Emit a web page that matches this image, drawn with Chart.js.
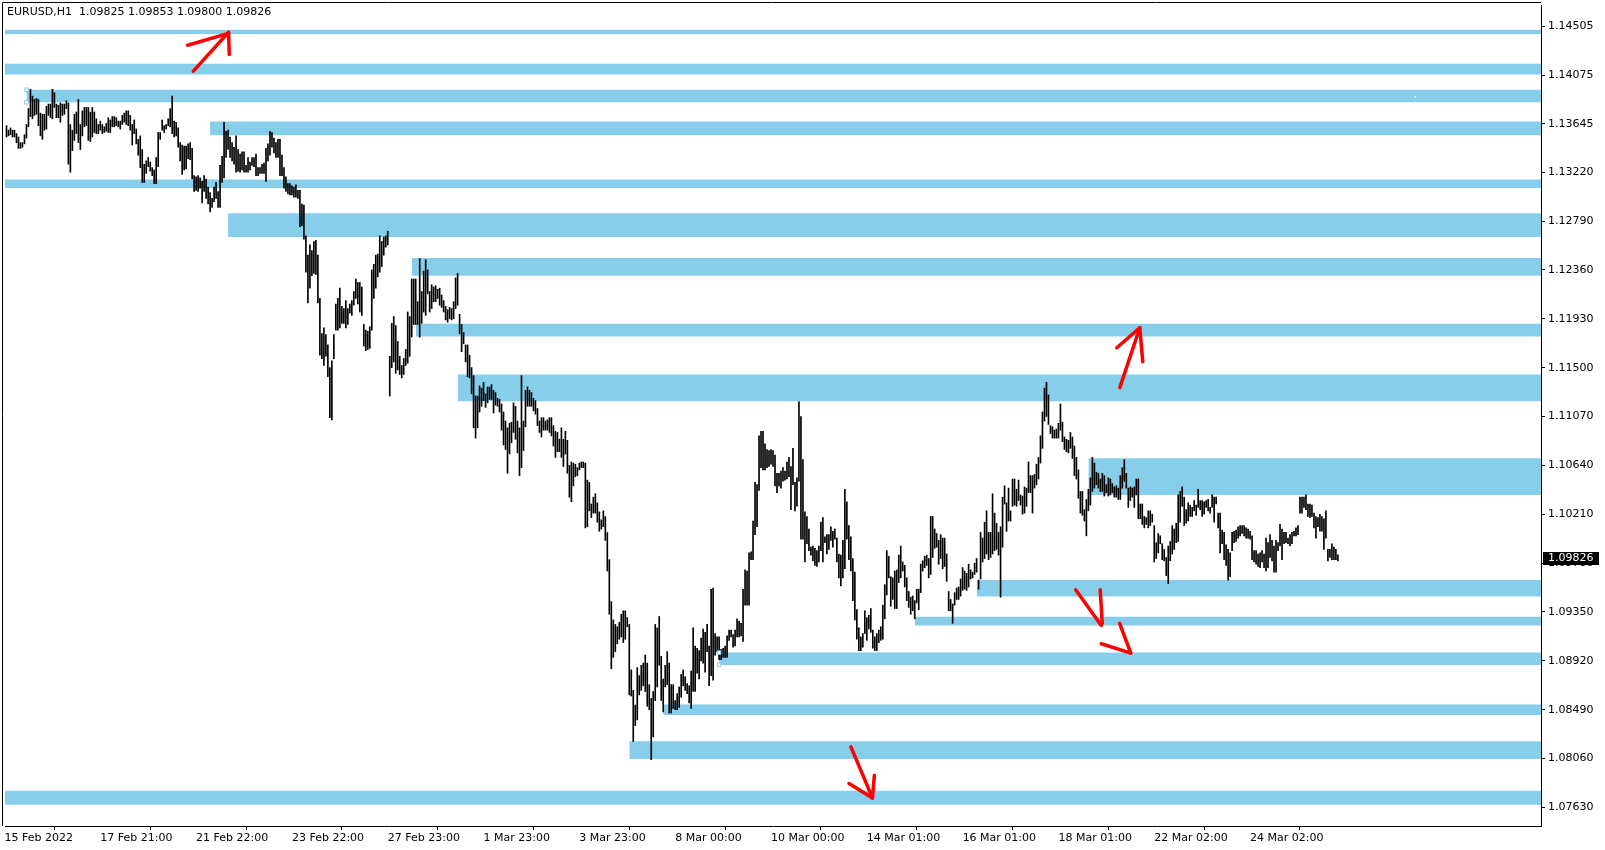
<!DOCTYPE html>
<html>
<head>
<meta charset="utf-8">
<script src="https://cdn.jsdelivr.net/npm/chart.js@4.4.1/dist/chart.umd.min.js"></script>
<style>
  html, body { margin: 0; padding: 0; background: #fff; }
  canvas { display: block; }
</style>
</head>
<body>
<canvas id="chart" width="1605" height="850"></canvas>
<script>
// EURUSD H1, one bar per hour
const quote = { name: 'EURUSD,H1', open: 1.09825, high: 1.09853, low: 1.09800, close: 1.09826 };

const priceTicks = [1.14505, 1.14075, 1.13645, 1.13220, 1.12790, 1.12360, 1.11930, 1.11500, 1.11070,
                    1.10640, 1.10210, 1.09780, 1.09350, 1.08920, 1.08490, 1.08060, 1.07630];

const timeLabels = ['15 Feb 2022', '17 Feb 21:00', '21 Feb 22:00', '23 Feb 22:00', '27 Feb 23:00',
                    '1 Mar 23:00', '3 Mar 23:00', '8 Mar 00:00', '10 Mar 00:00', '14 Mar 01:00',
                    '16 Mar 01:00', '18 Mar 01:00', '22 Mar 02:00', '24 Mar 02:00'];
const timeLabelBars = [0, 48, 96, 144, 192, 240, 288, 336, 384, 432, 480, 528, 576, 624];

const highs = [
1.1363,1.1359,1.1361,1.1359,1.1359,1.1356,1.1353,1.1348,1.1348,1.1355,
1.1364,1.1378,1.1395,1.1389,1.1386,1.1387,1.1386,1.1374,1.1373,1.1373,
1.1380,1.1382,1.1382,1.1395,1.1392,1.1382,1.1381,1.1383,1.1382,1.1382,
1.1385,1.1383,1.1364,1.1359,1.1373,1.1375,1.1386,1.1364,1.1376,1.1379,
1.1379,1.1379,1.1375,1.1379,1.1375,1.1369,1.1364,1.1367,1.1364,1.1362,
1.1365,1.1370,1.1368,1.1371,1.1371,1.1370,1.1367,1.1367,1.1372,1.1374,
1.1376,1.1376,1.1372,1.1364,1.1368,1.1360,1.1351,1.1354,1.1342,1.1329,
1.1332,1.1335,1.1331,1.1326,1.1324,1.1335,1.1357,1.1357,1.1368,1.1363,
1.1364,1.1369,1.1378,1.1389,1.1367,1.1366,1.1361,1.1348,1.1346,1.1345,
1.1345,1.1347,1.1348,1.1343,1.1319,1.1318,1.1319,1.1317,1.1314,1.1319,
1.1316,1.1309,1.1304,1.1299,1.1309,1.1313,1.1305,1.1328,1.1336,1.1366,
1.1358,1.1359,1.1353,1.1348,1.1344,1.1354,1.1342,1.1338,1.1340,1.1340,
1.1328,1.1335,1.1331,1.1335,1.1335,1.1338,1.1326,1.1326,1.1329,1.1330,
1.1343,1.1347,1.1358,1.1357,1.1352,1.1348,1.1351,1.1351,1.1337,1.1326,
1.1318,1.1312,1.1312,1.1310,1.1309,1.1311,1.1306,1.1306,1.1294,1.1293,
1.1266,1.1249,1.1258,1.1253,1.1261,1.1262,1.1249,1.1211,1.1180,1.1185,
1.1179,1.1170,1.1150,1.1156,1.1179,1.1206,1.1211,1.1220,1.1204,1.1202,
1.1209,1.1202,1.1206,1.1209,1.1217,1.1228,1.1225,1.1225,1.1221,1.1188,
1.1183,1.1182,1.1186,1.1236,1.1241,1.1249,1.1250,1.1266,1.1261,1.1265,
1.1266,1.1270,1.1160,1.1189,1.1195,1.1187,1.1173,1.1160,1.1152,1.1158,
1.1166,1.1199,1.1195,1.1228,1.1228,1.1228,1.1208,1.1246,1.1217,1.1235,
1.1245,1.1236,1.1217,1.1223,1.1221,1.1222,1.1219,1.1220,1.1214,1.1209,
1.1204,1.1201,1.1203,1.1202,1.1208,1.1229,1.1233,1.1197,1.1188,1.1181,
1.1170,1.1170,1.1161,1.1150,1.1143,1.1125,1.1125,1.1134,1.1132,1.1137,
1.1127,1.1133,1.1133,1.1135,1.1130,1.1128,1.1123,1.1122,1.1118,1.1111,
1.1103,1.1097,1.1101,1.1102,1.1119,1.1116,1.1103,1.1097,1.1143,1.1103,
1.1130,1.1133,1.1130,1.1128,1.1123,1.1121,1.1114,1.1103,1.1106,1.1106,
1.1103,1.1104,1.1106,1.1106,1.1099,1.1094,1.1093,1.1087,1.1097,1.1087,
1.1094,1.1086,1.1064,1.1067,1.1066,1.1065,1.1062,1.1066,1.1067,1.1067,
1.1066,1.1051,1.1049,1.1030,1.1036,1.1039,1.1031,1.1023,1.1016,1.1024,
1.1019,1.1005,1.0981,1.0944,1.0928,1.0924,1.0922,1.0926,1.0933,1.0936,
1.0936,1.0930,1.0924,1.0884,1.0866,1.0853,1.0886,1.0879,1.0888,1.0890,
1.0897,1.0890,1.0871,1.0859,1.0865,1.0924,1.0921,1.0931,1.0896,1.0876,
1.0888,1.0900,1.0890,1.0871,1.0871,1.0857,1.0863,1.0869,1.0880,1.0884,
1.0878,1.0872,1.0870,1.0883,1.0921,1.0905,1.0903,1.0901,1.0912,1.0920,
1.0917,1.0924,1.0905,1.0955,1.0956,1.0916,1.0913,1.0913,1.0902,1.0903,
1.0905,1.0914,1.0919,1.0919,1.0915,1.0919,1.0929,1.0927,1.0925,1.0955,
1.0972,1.0971,1.0987,1.0988,1.1015,1.1049,1.1047,1.1090,1.1094,1.1094,
1.1083,1.1078,1.1077,1.1078,1.1077,1.1073,1.1057,1.1057,1.1059,1.1062,
1.1059,1.1067,1.1071,1.1063,1.1079,1.1049,1.1053,1.1120,1.1107,1.1069,
1.1023,1.1019,1.1008,1.0992,1.0993,1.0991,1.0989,1.0993,1.1014,1.1018,
1.1001,1.1003,1.1003,1.1010,1.1006,1.1008,1.1000,1.0986,1.0985,1.0998,
1.1043,1.1032,1.1011,1.1001,1.0982,1.0970,1.0937,1.0921,1.0913,1.0916,
1.0936,1.0930,1.0932,1.0938,1.0919,1.0913,1.0916,1.0919,1.0922,1.0941,
1.0959,1.0989,1.0984,1.0966,1.0965,1.0971,1.0972,1.0985,1.0993,1.0979,
1.0976,1.0965,1.0953,1.0948,1.0949,1.0945,1.0955,1.0955,1.0977,1.0980,
1.0984,1.0985,1.0982,1.1019,1.1019,1.1008,1.1004,1.0998,1.1003,1.1000,
1.1000,1.0986,1.0953,1.0946,1.0942,1.0952,1.0956,1.0957,1.0964,1.0974,
1.0971,1.0969,1.0977,1.0972,1.0970,1.0978,1.0982,1.0963,1.1005,1.1000,
1.1014,1.1024,1.1005,1.1005,1.1039,1.1022,1.1013,1.1005,1.1010,1.1036,
1.1046,1.1031,1.1044,1.1024,1.1052,1.1052,1.1043,1.1051,1.1038,1.1037,
1.1045,1.1044,1.1067,1.1055,1.1055,1.1056,1.1065,1.1071,1.1090,1.1111,
1.1132,1.1137,1.1126,1.1099,1.1098,1.1095,1.1096,1.1101,1.1118,1.1102,
1.1089,1.1087,1.1086,1.1093,1.1089,1.1081,1.1071,1.1060,1.1041,1.1041,
1.1025,1.1034,1.1043,1.1053,1.1071,1.1066,1.1058,1.1057,1.1052,1.1057,
1.1055,1.1047,1.1053,1.1052,1.1048,1.1045,1.1046,1.1044,1.1055,1.1062,
1.1069,1.1057,1.1044,1.1045,1.1044,1.1045,1.1052,1.1052,1.1030,1.1030,
1.1019,1.1018,1.1024,1.1024,1.1021,1.1011,1.0996,1.1004,1.1002,1.0995,
1.0990,1.0983,1.0993,1.0997,1.1011,1.1008,1.1013,1.1038,1.1041,1.1045,
1.1036,1.1025,1.1031,1.1029,1.1027,1.1033,1.1029,1.1043,1.1033,1.1033,
1.1032,1.1033,1.1034,1.1027,1.1038,1.1036,1.1036,1.1022,1.1022,1.1007,
1.1005,1.0994,1.0990,1.0987,1.1005,1.1006,1.1007,1.1010,1.1011,1.1011,
1.1011,1.1009,1.1008,1.1006,1.1002,1.0989,1.0989,1.0986,1.0987,1.0989,
1.0986,1.1000,1.0996,1.1003,1.0998,1.0993,1.0998,1.0996,1.1012,1.1008,
1.1005,1.1005,1.1000,1.1003,1.1005,1.1006,1.1009,1.1011,1.1036,1.1036,
1.1036,1.1038,1.1030,1.1030,1.1029,1.1022,1.1019,1.1018,1.1021,1.1019,
1.1017,1.1024,1.0990,1.0990,1.0995,1.0992,1.0990,1.09853
];

const lows = [
1.1353,1.1354,1.1355,1.1353,1.1353,1.1348,1.1343,1.1343,1.1344,1.1347,
1.1352,1.1362,1.1371,1.1369,1.1372,1.1373,1.1363,1.1354,1.1351,1.1359,
1.1360,1.1372,1.1370,1.1369,1.1379,1.1370,1.1370,1.1366,1.1372,1.1373,
1.1378,1.1329,1.1322,1.1341,1.1350,1.1356,1.1348,1.1342,1.1354,1.1362,
1.1363,1.1350,1.1349,1.1353,1.1357,1.1356,1.1356,1.1359,1.1356,1.1357,
1.1358,1.1357,1.1357,1.1362,1.1362,1.1363,1.1362,1.1360,1.1364,1.1366,
1.1364,1.1363,1.1359,1.1346,1.1356,1.1347,1.1337,1.1326,1.1313,1.1313,
1.1321,1.1327,1.1323,1.1319,1.1312,1.1312,1.1327,1.1351,1.1359,1.1357,
1.1360,1.1363,1.1362,1.1356,1.1353,1.1354,1.1344,1.1332,1.1320,1.1324,
1.1325,1.1334,1.1333,1.1316,1.1305,1.1306,1.1305,1.1308,1.1295,1.1305,
1.1299,1.1294,1.1287,1.1291,1.1296,1.1299,1.1291,1.1291,1.1313,1.1317,
1.1335,1.1342,1.1335,1.1332,1.1329,1.1322,1.1323,1.1322,1.1324,1.1322,
1.1322,1.1322,1.1324,1.1328,1.1327,1.1319,1.1319,1.1321,1.1321,1.1321,
1.1314,1.1332,1.1337,1.1344,1.1339,1.1335,1.1335,1.1319,1.1319,1.1308,
1.1305,1.1303,1.1302,1.1302,1.1300,1.1300,1.1299,1.1274,1.1275,1.1263,
1.1234,1.1207,1.1220,1.1231,1.1233,1.1232,1.1207,1.1161,1.1158,1.1152,
1.1160,1.1142,1.1106,1.1104,1.1158,1.1183,1.1183,1.1185,1.1189,1.1189,
1.1185,1.1188,1.1198,1.1196,1.1205,1.1211,1.1206,1.1199,1.1196,1.1169,
1.1165,1.1166,1.1167,1.1183,1.1211,1.1220,1.1230,1.1234,1.1239,1.1249,
1.1256,1.1258,1.1125,1.1150,1.1155,1.1145,1.1148,1.1144,1.1141,1.1144,
1.1152,1.1154,1.1160,1.1177,1.1188,1.1188,1.1188,1.1177,1.1189,1.1199,
1.1196,1.1215,1.1199,1.1202,1.1208,1.1208,1.1211,1.1205,1.1203,1.1199,
1.1192,1.1190,1.1193,1.1192,1.1193,1.1202,1.1205,1.1180,1.1164,1.1171,
1.1155,1.1142,1.1141,1.1127,1.1097,1.1088,1.1097,1.1111,1.1116,1.1121,
1.1115,1.1119,1.1122,1.1122,1.1110,1.1117,1.1116,1.1111,1.1095,1.1082,
1.1078,1.1057,1.1074,1.1084,1.1093,1.1087,1.1075,1.1055,1.1062,1.1077,
1.1098,1.1116,1.1116,1.1116,1.1112,1.1109,1.1099,1.1093,1.1089,1.1095,
1.1095,1.1095,1.1093,1.1090,1.1081,1.1071,1.1076,1.1076,1.1071,1.1063,
1.1074,1.1057,1.1036,1.1032,1.1046,1.1054,1.1055,1.1060,1.1062,1.1062,
1.1009,1.1010,1.1024,1.1018,1.1022,1.1022,1.1014,1.1006,1.1008,1.1010,
1.0998,1.0971,1.0933,1.0885,1.0895,1.0900,1.0907,1.0911,1.0913,1.0908,
1.0911,1.0922,1.0862,1.0861,1.0821,1.0835,1.0840,1.0862,1.0866,1.0870,
1.0865,1.0852,1.0849,1.0805,1.0825,1.0857,1.0869,1.0888,1.0857,1.0847,
1.0869,1.0871,1.0846,1.0846,1.0850,1.0849,1.0849,1.0851,1.0860,1.0870,
1.0866,1.0863,1.0855,1.0850,1.0865,1.0865,1.0881,1.0876,1.0892,1.0890,
1.0882,1.0900,1.0870,1.0879,1.0875,1.0897,1.0900,1.0893,1.0893,1.0895,
1.0895,1.0895,1.0910,1.0913,1.0904,1.0905,1.0913,1.0913,1.0914,1.0909,
1.0941,1.0941,1.0941,1.0981,1.0981,1.1003,1.1010,1.1042,1.1062,1.1060,
1.1060,1.1062,1.1063,1.1065,1.1063,1.1046,1.1040,1.1046,1.1044,1.1050,
1.1051,1.1052,1.1054,1.1025,1.1047,1.1024,1.1028,1.1050,1.0999,1.0999,
1.0979,1.0995,1.0989,1.0985,1.0980,1.0976,1.0975,1.0979,1.0989,1.0979,
1.0996,1.0986,1.0990,1.0998,1.0992,1.0999,1.0979,1.0965,1.0958,1.0965,
1.0973,1.0999,1.0981,1.0971,1.0945,1.0928,1.0911,1.0901,1.0901,1.0904,
1.0916,1.0910,1.0920,1.0917,1.0903,1.0901,1.0901,1.0908,1.0910,1.0911,
1.0929,1.0950,1.0965,1.0940,1.0946,1.0938,1.0938,1.0961,1.0965,1.0971,
1.0957,1.0945,1.0939,1.0933,1.0936,1.0929,1.0943,1.0937,1.0952,1.0971,
1.0974,1.0976,1.0965,1.0968,1.0983,1.0991,1.0992,1.0977,1.0982,1.0973,
1.0975,1.0962,1.0936,1.0936,1.0925,1.0941,1.0946,1.0946,1.0949,1.0954,
1.0955,1.0954,1.0957,1.0964,1.0965,1.0968,1.0970,1.0955,1.0964,1.0979,
1.0982,1.0986,1.0981,1.0983,1.0986,1.0989,1.0990,1.0985,1.0948,1.0992,
1.1030,1.1006,1.1015,1.1015,1.1028,1.1029,1.1028,1.1033,1.1029,1.1021,
1.1022,1.1028,1.1040,1.1040,1.1022,1.1044,1.1047,1.1052,1.1066,1.1079,
1.1103,1.1107,1.1100,1.1092,1.1088,1.1088,1.1088,1.1088,1.1095,1.1085,
1.1078,1.1076,1.1075,1.1079,1.1070,1.1055,1.1052,1.1035,1.1022,1.1020,
1.1015,1.1002,1.1024,1.1029,1.1041,1.1044,1.1047,1.1044,1.1041,1.1041,
1.1037,1.1040,1.1037,1.1038,1.1040,1.1036,1.1036,1.1034,1.1034,1.1044,
1.1050,1.1044,1.1027,1.1033,1.1036,1.1027,1.1038,1.1017,1.1017,1.1012,
1.1009,1.1012,1.1009,1.1011,1.1014,1.0979,1.0982,1.0987,1.0995,1.0981,
1.0980,1.0967,1.0960,1.0980,1.0986,1.0990,1.0996,1.0997,1.1014,1.1028,
1.1011,1.1013,1.1015,1.1019,1.1019,1.1024,1.1020,1.1027,1.1025,1.1019,
1.1021,1.1027,1.1024,1.1022,1.1027,1.1014,1.1030,1.1009,1.0987,1.0995,
1.0981,1.0976,1.0963,1.0966,1.0989,1.0996,1.0997,1.1000,1.1002,1.1004,
1.1002,1.1000,1.1000,1.0999,1.0981,1.0979,1.0977,1.0975,1.0974,1.0979,
1.0974,1.0971,1.0974,1.0983,1.0980,1.0970,1.0970,1.0989,1.0993,1.0981,
1.0995,1.0996,1.0995,1.0993,1.0995,1.1002,1.1002,1.1003,1.1022,1.1022,
1.1027,1.1025,1.1019,1.1018,1.1019,1.1009,1.1000,1.1010,1.1006,1.1006,
1.0990,1.1000,1.0980,1.0983,1.0981,1.0981,1.0981,1.09800
];

// supply / demand rectangles: price band and the bar they start on (-1 = from the left edge)
const zoneTop    = [1.14475, 1.14174, 1.13946, 1.13666, 1.13157, 1.12859, 1.12464, 1.11886,
                    1.11439, 1.10702, 1.09632, 1.09307, 1.08992, 1.08536, 1.08211, 1.07776];
const zoneBottom = [1.14437, 1.14081, 1.13835, 1.13546, 1.13081, 1.12651, 1.12309, 1.11774,
                    1.11204, 1.10380, 1.09485, 1.09231, 1.08884, 1.08442, 1.08056, 1.07653];
const zoneFrom   = [-1, -1, 10, 102, -1, 111, 203, 205, 226, 542, 486, 455, 357, 329, 312, -1];
const selectedZones = [2, 12];

// small white marker sitting inside the third band
const markerBar = 705.75, markerPrice = 1.13885;

// hand drawn red arrows, each stroke as [bar, price] points
const arrowStrokes = [
  [[93.6, 1.14110], [111.25, 1.14452]],
  [[90.75, 1.14338], [110.75, 1.14440]],
  [[111.25, 1.14452], [111.6, 1.14256]],
  [[557.75, 1.11324], [567.75, 1.11851]],
  [[556.25, 1.11675], [567.75, 1.11851]],
  [[567.75, 1.11851], [569.25, 1.11552]],
  [[535.65, 1.09545], [548.45, 1.09231]],
  [[547.9, 1.09545], [548.95, 1.09249]],
  [[548.45, 1.09070], [563.25, 1.08988]],
  [[557.65, 1.09249], [563.25, 1.08988]],
  [[423.05, 1.08162], [433.8, 1.07713]],
  [[422.05, 1.07840], [433.8, 1.07713]],
  [[433.8, 1.07713], [434.8, 1.07912]]
];

// visible window of the chart
const viewMinBar = -0.75, viewMaxBar = 768.75;
const viewMinPrice = 1.07466, viewMaxPrice = 1.146918;

const FONT = { family: 'DejaVu Sans', size: 11 };
const ZONE_COLOR = '#87ceeb';

Chart.defaults.font.family = FONT.family;
Chart.defaults.font.size = FONT.size;

const datasets = [];

datasets.push({
  type: 'bar',
  data: highs.map((h, i) => ({ x: i, y: [lows[i], h] })),
  backgroundColor: '#000',
  borderWidth: 0,
  barThickness: 1,
  minBarLength: 1,
  order: 2
});

zoneTop.forEach((top, k) => {
  datasets.push({
    type: 'line',
    data: [{ x: zoneFrom[k], y: zoneBottom[k] }, { x: 2000, y: zoneBottom[k] }],
    fill: { value: top },
    backgroundColor: ZONE_COLOR,
    borderColor: 'rgba(0,0,0,0)',
    borderWidth: 1,
    pointRadius: 0,
    order: 5
  });
});

datasets.push({
  type: 'line',
  showLine: false,
  data: selectedZones.flatMap(k => [{ x: zoneFrom[k], y: zoneTop[k] }, { x: zoneFrom[k], y: zoneBottom[k] }]),
  pointStyle: 'rect',
  pointRadius: 2.5,
  pointBorderWidth: 1,
  pointBorderColor: ZONE_COLOR,
  pointBackgroundColor: '#fff',
  order: 1
});

datasets.push({
  type: 'line',
  showLine: false,
  data: [{ x: markerBar, y: markerPrice }],
  pointStyle: 'rect',
  pointRadius: 1.2,
  pointBorderWidth: 0,
  pointBackgroundColor: '#fff',
  order: 1
});

arrowStrokes.forEach(s => {
  datasets.push({
    type: 'line',
    data: s.map(p => ({ x: p[0], y: p[1] })),
    borderColor: '#ff0000',
    borderWidth: 3.5,
    borderCapStyle: 'round',
    pointRadius: 0,
    fill: false,
    order: 0
  });
});

const terminalBits = {
  id: 'terminalBits',
  afterDatasetsDraw(chart) {
    const { ctx, chartArea } = chart;
    ctx.save();
    ctx.strokeStyle = '#000';
    ctx.lineWidth = 1;
    ctx.beginPath();
    ctx.moveTo(2.5, chartArea.bottom);
    ctx.lineTo(2.5, 2.5);
    ctx.lineTo(chartArea.right, 2.5);
    ctx.stroke();
    ctx.restore();
  },
  afterDraw(chart) {
    const { ctx, chartArea } = chart;
    const y = chart.scales.y.getPixelForValue(quote.close);
    ctx.save();
    ctx.font = FONT.size + 'px "' + FONT.family + '"';
    ctx.textBaseline = 'middle';
    ctx.fillStyle = '#000';
    ctx.fillText(quote.name + '  ' + [quote.open, quote.high, quote.low, quote.close].map(v => v.toFixed(5)).join(' '), 7, 12.5);
    ctx.fillRect(chartArea.right + 2, Math.round(y) - 6, 56, 13);
    ctx.fillStyle = '#fff';
    ctx.fillText(quote.close.toFixed(5), chartArea.right + 7, Math.round(y) + 0.5);
    ctx.restore();
  }
};

new Chart(document.getElementById('chart'), {
  type: 'bar',
  data: { datasets },
  options: {
    responsive: false,
    animation: false,
    events: [],
    layout: { padding: { left: 2, top: 2, right: 0, bottom: 0 } },
    plugins: { legend: { display: false }, tooltip: { enabled: false } },
    scales: {
      x: {
        type: 'linear',
        position: 'bottom',
        min: viewMinBar,
        max: viewMaxBar,
        offset: false,
        afterBuildTicks: s => { s.ticks = timeLabelBars.map(v => ({ value: v })); },
        afterFit: s => { s.height = 24; s.paddingLeft = 0; s.paddingRight = 0; },
        ticks: {
          autoSkip: false,
          maxRotation: 0,
          minRotation: 0,
          align: 'start',
          labelOffset: -2,
          padding: 2,
          color: '#000',
          font: FONT,
          callback: v => timeLabels[timeLabelBars.indexOf(v)]
        },
        grid: { drawOnChartArea: false, drawTicks: true, tickLength: 4, color: '#000' },
        border: { display: true, color: '#000', width: 1 }
      },
      y: {
        type: 'linear',
        position: 'right',
        min: viewMinPrice,
        max: viewMaxPrice,
        afterBuildTicks: s => { s.ticks = priceTicks.map(v => ({ value: v })); },
        afterFit: s => { s.width = 64; s.paddingTop = 0; s.paddingBottom = 0; },
        ticks: {
          padding: 3,
          color: '#000',
          font: FONT,
          callback: v => v.toFixed(5)
        },
        grid: { drawOnChartArea: false, drawTicks: true, tickLength: 4, color: '#000' },
        border: { display: true, color: '#000', width: 1 }
      }
    }
  },
  plugins: [terminalBits]
});
</script>
</body>
</html>
